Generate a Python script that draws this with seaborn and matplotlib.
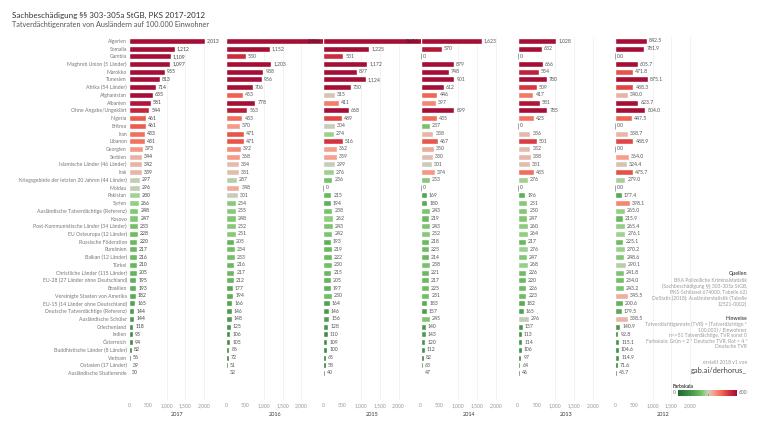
import numpy as np
import pandas as pd
import matplotlib
matplotlib.use("Agg")
import matplotlib.pyplot as plt
import seaborn as sns
from matplotlib.colors import LinearSegmentedColormap


# Daten
laender = [
    "Algerien", "Somalia", "Gambia", "Maghreb Union (5 Länder)", "Marokko", "Tunesien",
    "Afrika (54 Länder)", "Afghanistan", "Albanien", "Ohne Angabe/Ungeklärt", "Nigeria",
    "Eritrea", "Iran", "Libanon", "Georgien", "Serbien", "Islamische Länder (46 Länder)",
    "Irak", "Kriegsgebiete der letzten 20 Jahren (44 Länder)", "Moldau", "Pakistan", "Syrien",
    "Ausländische Tatverdächtige (Referenz)", "Kosovo", "Post-Kommunistische Länder (34 Länder)",
    "EU Osteuropa (12 Länder)", "Russische Föderation", "Rumänien", "Balkan (12 Länder)",
    "Türkei", "Christliche Länder (115 Länder)", "EU-28 (27 Länder ohne Deutschland)",
    "Brasilien", "Vereinigte Staaten von Amerika", "EU-15 (14 Länder ohne Deutschland)",
    "Deutsche Tatverdächtige (Referenz)", "Ausländische Schüler", "Griechenland", "Indien",
    "Österreich", "Buddhistische Länder (8 Länder)", "Vietnam", "Ostasien (17 Länder)",
    "Ausländische Studierende",
]

tvr_2017 = [2013, 1212, 1109, 1097, 955, 813, 714, 635, 581, 544, 461, 461, 433, 431, 373, 344,
            342, 339, 297, 296, 280, 266, 248, 247, 233, 228, 220, 217, 216, 210, 205, 195,
            193, 182, 165, 144, 144, 118, 95, 94, 82, 56, 39, 30]
tvr_2016 = [2986, 1152, 530, 1203, 988, 956, 706, 453, 778, 563, 433, 370, 471, 471, 392, 368,
            334, 331, 287, 348, 301, 254, 255, 248, 252, 251, 205, 234, 233, 216, 217, 212,
            177, 194, 166, 146, 148, 125, 106, 105, 86, 72, 51, 32]
tvr_2015 = [3616, 1225, 531, 1172, 897, 1124, 730, 315, 411, 668, 489, 304, 274, 516, 362, 359,
            299, 276, 236, 0, 215, 194, 238, 262, 243, 242, 193, 219, 222, 230, 215, 205,
            197, 230, 164, 146, 156, 128, 110, 109, 100, 65, 58, 40]
tvr_2014 = [1623, 570, 0, 879, 748, 901, 612, 446, 397, 899, 435, 237, 338, 467, 350, 330,
            301, 374, 253, 0, 169, 180, 243, 219, 243, 252, 218, 225, 214, 238, 221, 217,
            225, 231, 183, 157, 245, 140, 143, 120, 112, 82, 63, 47]
tvr_2013 = [1028, 632, 0, 666, 554, 780, 509, 417, 581, 785, 425, 0, 336, 501, 332, 338,
            331, 435, 276, 0, 196, 251, 250, 247, 260, 264, 217, 276, 247, 268, 226, 220,
            226, 223, 182, 165, 296, 137, 113, 114, 106, 97, 64, 46]
tvr_2012 = [842.5, 781.9, 0.0, 605.7, 471.8, 875.1, 488.3, 340.0, 623.7, 804.0, 447.5, 0.0,
            338.7, 488.9, 0.0, 364.0, 324.4, 475.7, 279.0, 0.0, 177.4, 398.1, 265.0, 215.9,
            265.4, 276.1, 225.1, 270.2, 248.6, 290.1, 241.8, 234.0, 243.2, 345.5, 200.6,
            179.5, 338.5, 140.9, 92.8, 115.1, 104.6, 114.9, 71.6, 45.7]

jahre = ["2017", "2016", "2015", "2014", "2013", "2012"]
werte = dict(zip(jahre, [tvr_2017, tvr_2016, tvr_2015, tvr_2014, tvr_2013, tvr_2012]))

achse_ticks = [0, 500, 1000, 1500, 2000]
achse_labels = ["0", "500", "1,000", "1,500", "2,000"]

sns.set_theme(style="white")
plt.rcParams['font.family'] = ['Lato', 'DejaVu Sans']

farbskala = LinearSegmentedColormap.from_list("farbskala", [
    (0.0, '#1e6b2f'), (0.25, '#4c9c4c'), (0.38, '#6fbd62'), (0.45, '#97d187'),
    (0.5, '#c8cdbb'), (0.555, '#e2bcb0'), (0.6, '#f7a08d'), (0.75, '#ef6552'),
    (0.85, '#d8363f'), (0.95, '#b51a39'), (1.0, '#a50f36')])

W, H = 768, 432
fig = plt.figure(figsize=(W / 100, H / 100), dpi=100)

x0 = 129
pw = 97.2
oben, unten = 37, 400
xmax = 2585
n = len(laender)
fs = 3.7

for i, jahr in enumerate(jahre):
    ax = fig.add_axes([(x0 + i * pw) / W, 1 - unten / H, pw / W, (unten - oben) / H])
    df = pd.DataFrame({"Land": laender, "TVR": werte[jahr]})
    for xv in (1000, 1500, 2000):
        ax.axvline(xv, color='#ededed', lw=0.5, zorder=0)
    sns.barplot(data=df, x="TVR", y="Land", ax=ax, color="grey", width=0.78,
                orient="h", errorbar=None, zorder=2)
    for k, (patch, v) in enumerate(zip(ax.patches, df["TVR"])):
        patch.set_facecolor(farbskala(min(v, 600) / 600))
        if v == 0:
            patch.set_edgecolor('#8a97aa')
            patch.set_linewidth(0.6)
        txt = f"{v:.1f}" if jahr == "2012" else f"{v:,.0f}"
        if v > xmax:
            ax.text(xmax - 60, k, txt, ha='right', va='center', fontsize=fs,
                    color='#3a1a22', zorder=3)
        else:
            ax.annotate(txt, (v, k), xytext=(1.5, 0), textcoords='offset points',
                        ha='left', va='center', fontsize=fs,
                        color='#444' if jahr == "2017" else '#555')
    ax.set_xlim(0, xmax)
    ax.set_ylim(n - 1 + 3.5, -0.5)
    ax.set_xticks(achse_ticks)
    ax.set_xticklabels(achse_labels)
    ax.tick_params(axis='x', length=0, labelsize=fs, labelcolor='#999', pad=2)
    ax.set_xlabel(jahr, fontsize=4.0, color='#333', labelpad=3)
    ax.set_ylabel('')
    if i == 0:
        ax.tick_params(axis='y', length=0, labelsize=fs, labelcolor='#777', pad=1.5)
    else:
        ax.set_yticks([])
    sns.despine(ax=ax, left=True, bottom=True)


def ftext(x, y, s, **kw):
    fig.text(x / W, 1 - y / H, s, va='center', **kw)


ftext(12, 15, "Sachbeschädigung §§ 303-305a StGB, PKS 2017-2012", fontsize=5.8, color='#333')
ftext(12, 24, "Tatverdächtigenraten von Ausländern auf 100.000 Einwohner", fontsize=5.2, color='#555')

quellen = ["BKA Polizeiliche Kriminalstatistik",
           "(Sachbeschädigung §§ 303-305a StGB,",
           "PKS-Schlüssel 674000, Tabelle 62)",
           "DeStatis (2018): Ausländerstatistik (Tabelle",
           "12521-0002)"]
hinweise = ["Tatverdächtigenrate (TVR) = (Tatverdächtige *",
            "100.000) / Einwohner",
            "n<=51 Tatverdächtige, TVR sonst 0",
            "Farbskala: Grün = 2 * Deutsche TVR, Rot = 4 *",
            "Deutsche TVR"]

xr = 747
ftext(xr, 274, "Quellen", ha='right', fontsize=3.8, color='#555', fontweight='bold')
for j, s in enumerate(quellen):
    ftext(xr, 280 + j * 6, s, ha='right', fontsize=3.6, color='#999')
ftext(xr, 319, "Hinweise", ha='right', fontsize=3.8, color='#555', fontweight='bold')
for j, s in enumerate(hinweise):
    ftext(xr, 324.5 + j * 5.5, s, ha='right', fontsize=3.6, color='#999')
ftext(xr, 362, "erstellt 2018 v1 von", ha='right', fontsize=3.6, color='#999')
ftext(xr, 370, "gab.ai/derhorus_", ha='right', fontsize=5.4, color='#444')

# Farbskala-Legende
ftext(673, 386, "Farbskala", ha='left', fontsize=3.6, color='#444', fontweight='bold')
cax = fig.add_axes([678 / W, 1 - 396 / H, 59 / W, 6 / H])
cax.imshow(np.linspace(0, 1, 256)[None, :], aspect='auto', cmap=farbskala)
cax.axvline(0.51 * 255, ymin=0, ymax=0.3, color='#888', lw=0.6)
cax.axis('off')
ftext(676, 393, "0", ha='right', fontsize=3.6, color='#666')
ftext(739, 393, "600", ha='left', fontsize=3.6, color='#666')

fig.savefig("out.png", dpi=100)
